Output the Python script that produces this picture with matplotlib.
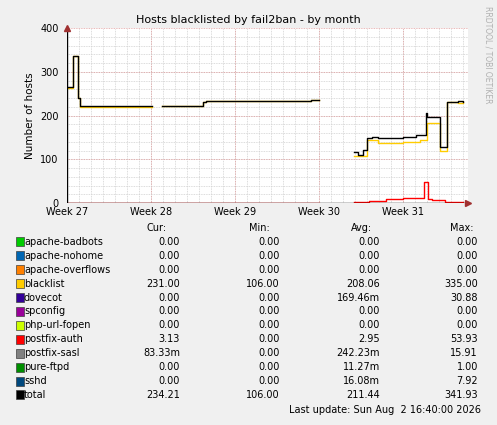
import numpy as np
import matplotlib.pyplot as plt
from matplotlib.patches import Rectangle
import matplotlib.transforms as mtrans

# step series, x in weeks (27 = start of Week 27), NaN = no data
total_t = [27.0, 27.07, 27.13, 27.15, 27.2, 28.01, 28.13, 28.62, 28.66, 29.5, 29.9, 30.0, 30.42,
           30.46, 30.52, 30.57, 30.63, 30.7, 31.0, 31.15, 31.27, 31.29, 31.33, 31.44, 31.52, 31.65, 31.72]
total_v = [265, 335, 240, 222, 222, np.nan, 222, 230, 233, 234, 236, np.nan, 117,
           110, 122, 148, 150, 148, 152, 155, 205, 197, 197, 128, 232, 234, 232]
black_t = [27.0, 27.07, 27.13, 27.15, 28.01, 28.13, 28.62, 28.66, 29.9, 30.0, 30.42,
           30.46, 30.57, 30.7, 31.0, 31.2, 31.29, 31.44, 31.52, 31.65, 31.72]
black_v = [263, 335, 240, 220, np.nan, 221, 230, 233, 235, np.nan, 108,
           108, 145, 138, 140, 145, 183, 118, 230, 229, 232]
auth_t = [27.0, 29.9, 30.0, 30.42, 30.6, 30.8, 31.0, 31.15, 31.25, 31.3, 31.35, 31.5, 31.72]
auth_v = [0, 0, np.nan, 2, 5, 10, 11, 12, 48, 10, 6, 2, 1]

week_labels = ["Week 27", "Week 28", "Week 29", "Week 30", "Week 31"]

legend_names = ["apache-badbots", "apache-nohome", "apache-overflows", "blacklist", "dovecot",
                "spconfig", "php-url-fopen", "postfix-auth", "postfix-sasl", "pure-ftpd", "sshd", "total"]
legend_colors = ["#00cc00", "#0066b3", "#ff8000", "#ffcc00", "#330099", "#990099",
                 "#ccff00", "#ff0000", "#808080", "#008f00", "#00487d", "#000000"]
cur = ["0.00", "0.00", "0.00", "231.00", "0.00", "0.00", "0.00", "3.13", "83.33m", "0.00", "0.00", "234.21"]
mins = ["0.00", "0.00", "0.00", "106.00", "0.00", "0.00", "0.00", "0.00", "0.00", "0.00", "0.00", "106.00"]
avgs = ["0.00", "0.00", "0.00", "208.06", "169.46m", "0.00", "0.00", "2.95", "242.23m", "11.27m", "16.08m", "211.44"]
maxs = ["0.00", "0.00", "0.00", "335.00", "30.88", "0.00", "0.00", "53.93", "15.91", "1.00", "7.92", "341.93"]

W, H = 497, 425
fig = plt.figure(figsize=(W / 100, H / 100), dpi=100, facecolor="#f0f0f0")
x0, x1 = 67, 468
ax = fig.add_axes([x0 / W, 1 - 203 / H, (x1 - x0) / W, 175 / H])
ax.set_facecolor("white")
xmax = 27 + (x1 - x0) / 84
ax.set_xlim(27, xmax)
ax.set_ylim(0, 400)

# grid
for d in np.arange(27, xmax, 1 / 7):
    ax.axvline(d, color="#d0d0d0", lw=0.6, ls=(0, (1, 1)), zorder=0)
for w in range(28, 32):
    ax.axvline(w, color="#e0a0a0", lw=0.6, ls=(0, (1, 1)), zorder=0)
for y in range(20, 400, 20):
    ax.axhline(y, color="#d0d0d0", lw=0.6, ls=(0, (1, 1)), zorder=0)
for y in range(100, 401, 100):
    ax.axhline(y, color="#e0a0a0", lw=0.6, ls=(0, (1, 1)), zorder=0)

ax.step(auth_t, auth_v, where="post", color="#ff0000", lw=1)
ax.step(black_t, black_v, where="post", color="#ffcc00", lw=1)
ax.step(total_t, total_v, where="post", color="#000000", lw=1)

for s in ax.spines.values():
    s.set_visible(False)
ax.axhline(0, color="#000000", lw=1)
ax.axvline(27, color="#000000", lw=1)
# arrow heads like rrdtool
ax.plot([xmax], [0], marker=">", color="#a03030", ms=4, clip_on=False)
ax.plot([27], [400], marker="^", color="#a03030", ms=4, clip_on=False)
ax.set_xticks(range(27, 32))
ax.set_xticklabels(week_labels, fontsize=7)
offset = mtrans.ScaledTranslation(13 / 100, 0, fig.dpi_scale_trans)
for lbl in ax.get_xticklabels():
    lbl.set_transform(lbl.get_transform() + offset)
ax.set_yticks(range(0, 401, 100))
ax.tick_params(labelsize=7, length=0)
ax.tick_params(axis="y", pad=6)
ax.tick_params(axis="x", pad=3)
ax.set_ylabel("Number of hosts", fontsize=7.5)
fig.text(248 / W, 1 - 20 / H, "Hosts blacklisted by fail2ban - by month", ha="center", va="center", fontsize=8)
fig.text(488 / W, 1 - 55 / H, "RRDTOOL / TOBI OETIKER", rotation=270, ha="center", va="center",
         fontsize=5.5, color="#b0b0b0")

# legend
fig.text(157 / W, 1 - 228 / H, "Cur:", ha="center", va="center", fontsize=7)
fig.text(259 / W, 1 - 228 / H, "Min:", ha="center", va="center", fontsize=7)
fig.text(361 / W, 1 - 228 / H, "Avg:", ha="center", va="center", fontsize=7)
fig.text(462 / W, 1 - 228 / H, "Max:", ha="center", va="center", fontsize=7)
for i, name in enumerate(legend_names):
    yp = 242 + i * 13.9
    fig.patches.append(Rectangle((16 / W, 1 - (yp + 4.5) / H), 8 / W, 9 / H, transform=fig.transFigure,
                                 facecolor=legend_colors[i], edgecolor="#404040", lw=0.5))
    fig.text(24 / W, 1 - yp / H, name, ha="left", va="center", fontsize=7)
    fig.text(180 / W, 1 - yp / H, cur[i], ha="right", va="center", fontsize=7)
    fig.text(280 / W, 1 - yp / H, mins[i], ha="right", va="center", fontsize=7)
    fig.text(380 / W, 1 - yp / H, avgs[i], ha="right", va="center", fontsize=7)
    fig.text(478 / W, 1 - yp / H, maxs[i], ha="right", va="center", fontsize=7)
fig.text(481 / W, 1 - 410 / H, "Last update: Sun Aug  2 16:40:00 2026", ha="right", va="center", fontsize=7)

fig.savefig("out.png", dpi=100, facecolor=fig.get_facecolor())
